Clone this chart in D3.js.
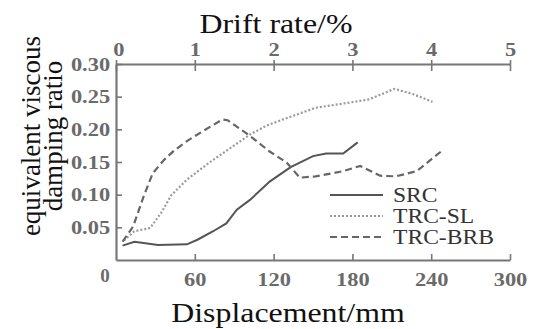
<!DOCTYPE html>
<html>
<head>
<meta charset="utf-8">
<script src="https://cdn.jsdelivr.net/npm/d3@7"></script>
<style>
body { margin:0; background:#fff; }
text { font-family: "Liberation Serif", "Times New Roman", serif; }
</style>
</head>
<body>
<script>
// displacement (mm) and damping ratio for each specimen
var srcX = [5, 14, 21, 32, 54, 62, 74, 84, 92, 102, 117, 133, 150, 160, 173, 184]
var srcY = [0.022, 0.028, 0.026, 0.023, 0.024, 0.031, 0.044, 0.056, 0.077, 0.092, 0.120, 0.142, 0.159, 0.163, 0.163, 0.180]

var slX = [6, 14, 26, 35, 42, 54, 71, 89, 102, 115, 127, 152, 178, 193, 212, 226, 241]
var slY = [0.030, 0.044, 0.049, 0.074, 0.099, 0.123, 0.149, 0.174, 0.192, 0.206, 0.215, 0.233, 0.241, 0.246, 0.262, 0.254, 0.242]

var brbX = [5, 13, 21, 28, 37, 44, 54, 66, 81, 85, 102, 117, 130, 140, 152, 173, 186, 201, 213, 229, 248]
var brbY = [0.028, 0.051, 0.097, 0.133, 0.154, 0.167, 0.182, 0.197, 0.215, 0.214, 0.190, 0.166, 0.149, 0.126, 0.128, 0.136, 0.144, 0.129, 0.128, 0.136, 0.167]

var seriesNames = ['SRC', 'TRC-SL', 'TRC-BRB']
var xTicks = [60, 120, 180, 240, 300]
var yTicks = [0.05, 0.10, 0.15, 0.20, 0.25, 0.30]
var driftTicks = [0, 1, 2, 3, 4, 5]

var width = 537,
	height = 329,
	margin = {top:64, left:116, right:27, bottom:69};

var stretch = 'scale(1.18,1)'

var svg = d3.select('body')
	.append('svg')
	.attr('width',width)
	.attr('height',height)

var escalaX = d3.scaleLinear()
	.domain([0,300])
	.range([margin.left,width-margin.right])

var escalaDrift = d3.scaleLinear()
	.domain([0,5])
	.range(escalaX.range())

var escalaY = d3.scaleLinear()
	.domain([0,0.3])
	.range([height-margin.bottom,margin.top])

var gris = '#777'

// bottom axis
var ejeX = svg.append('g')
	.attr('transform','translate(0,'+escalaY.range()[0]+')')
	.call(d3.axisBottom(escalaX).tickValues(xTicks).tickSizeInner(-6).tickSizeOuter(0).tickPadding(13))
// left axis
var ejeY = svg.append('g')
	.attr('transform','translate('+escalaX.range()[0]+',0)')
	.call(d3.axisLeft(escalaY).tickValues(yTicks).tickFormat(d3.format('.2f')).tickSizeInner(-6).tickSizeOuter(0).tickPadding(5))
// top axis (drift rate)
var ejeTop = svg.append('g')
	.attr('transform','translate(0,'+escalaY.range()[1]+')')
	.call(d3.axisTop(escalaDrift).tickValues(driftTicks).tickFormat(d3.format('d')).tickSize(4).tickSizeOuter(0).tickPadding(4))

;[ejeX, ejeY, ejeTop].forEach(function(g){
	g.select('.domain').attr('stroke',gris).attr('stroke-width',2.2)
	g.selectAll('.tick line').attr('stroke',gris).attr('stroke-width',1.6)
	g.selectAll('.tick text')
		.attr('fill','#6a6a6a')
		.attr('font-weight','bold')
		.attr('font-size',19)
		.attr('font-family','"Liberation Serif", "Times New Roman", serif')
		.attr('transform',stretch)
})
ejeTop.selectAll('.tick line').attr('y1',7)
ejeTop.selectAll('.tick text').attr('dx', d=>d==0 ? 2 : 0)

// origin label
svg.append('text')
	.attr('x',escalaX(0)-11)
	.attr('y',escalaY(0)+22)
	.attr('text-anchor','middle')
	.attr('fill','#6a6a6a')
	.attr('font-weight','bold')
	.attr('font-size',19)
	.text('0')

// titles
svg.append('text')
	.attr('transform','translate(276,33) '+stretch)
	.attr('text-anchor','middle')
	.attr('font-size',27)
	.attr('fill','#111')
	.text('Drift rate/%')

svg.append('text')
	.attr('transform','translate(288,322) '+stretch)
	.attr('text-anchor','middle')
	.attr('font-size',27)
	.attr('fill','#111')
	.text('Displacement/mm')

var yLab = svg.append('text')
	.attr('transform','translate(40,136) rotate(-90)')
	.attr('text-anchor','middle')
	.attr('font-size',27)
	.attr('fill','#111')
yLab.append('tspan').attr('x',0).attr('dy',0).text('equivalent viscous')
yLab.append('tspan').attr('x',0).attr('dy',22).text('damping ratio')

// series
var series = [
	{name:seriesNames[0], pts:d3.zip(srcX,srcY), color:'#555', dash:null, w:2},
	{name:seriesNames[1], pts:d3.zip(slX,slY), color:'#9a9a9a', dash:'2,2', w:2.2},
	{name:seriesNames[2], pts:d3.zip(brbX,brbY), color:'#666', dash:'7,4', w:2.2}
]

var linea = d3.line()
	.x(d=>escalaX(d[0]))
	.y(d=>escalaY(d[1]))

svg.append('g')
	.selectAll('path')
	.data(series).enter()
	.append('path')
	.attr('d',d=>linea(d.pts))
	.attr('fill','none')
	.attr('stroke',d=>d.color)
	.attr('stroke-width',d=>d.w)
	.attr('stroke-dasharray',d=>d.dash)

// legend
var leyenda = svg.append('g')
	.selectAll('g')
	.data(series).enter()
	.append('g')
	.attr('transform',(d,i)=>'translate(330,'+(195+i*21)+')')
leyenda.append('line')
	.attr('x1',0).attr('x2',53)
	.attr('stroke',d=>d.color)
	.attr('stroke-width',d=>d.w)
	.attr('stroke-dasharray',d=>d.dash)
leyenda.append('text')
	.attr('transform','translate(63,7) '+stretch)
	.attr('font-size',20)
	.attr('fill','#333')
	.text(d=>d.name)
</script>
</body>
</html>
